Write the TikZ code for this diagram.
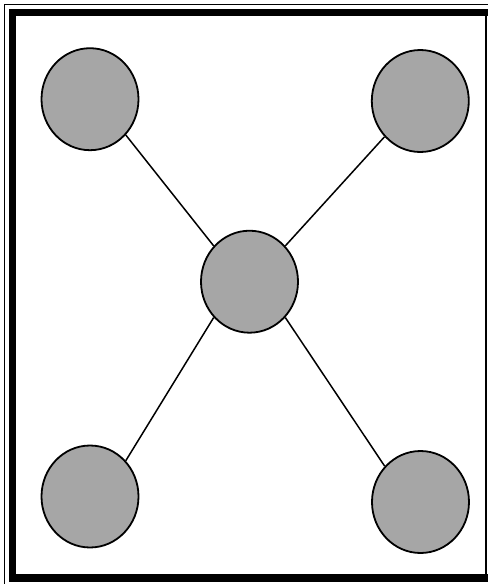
\documentclass[tikz,border=0pt]{standalone}
\usetikzlibrary{shapes.geometric}
\definecolor{nodegray}{HTML}{A6A6A6}
\tikzset{
  ball/.style={ellipse, draw=black, line width=1.8pt, fill=nodegray,
    minimum width=97pt, minimum height=102pt, inner sep=0pt},
  link/.style={draw=black, line width=1.5pt},
  band/.style={fill=black},
}
\begin{document}
\begin{tikzpicture}[x=1pt,y=-1pt]
\useasboundingbox (0,0) rectangle (488,584);
\fill[white] (0,0) rectangle (488,584);
% frame
\draw[line width=1.3pt] (4.5,584) -- (4.5,4.5) -- (488,4.5);
\fill[band] (9,9) rectangle (488,16);
\fill[band] (9,9) rectangle (16,582);
\fill[band] (9,574) rectangle (488,582);
\draw[line width=1.6pt] (485.7,16) -- (485.7,574);
% nodes
\node[ball] (c) at (249.5,281.7) {};
\node[ball] (tl) at (90,99.2) {};
\node[ball] (tr) at (420.3,101) {};
\node[ball] (bl) at (90,496.5) {};
\node[ball] (br) at (420.5,502) {};
% connectors
\draw[link] (c.135) -- (tl.315);
\draw[link] (c.45) -- (tr.225);
\draw[link] (c.225) -- (bl.45);
\draw[link] (c.315) -- (br.135);
\end{tikzpicture}
\end{document}
